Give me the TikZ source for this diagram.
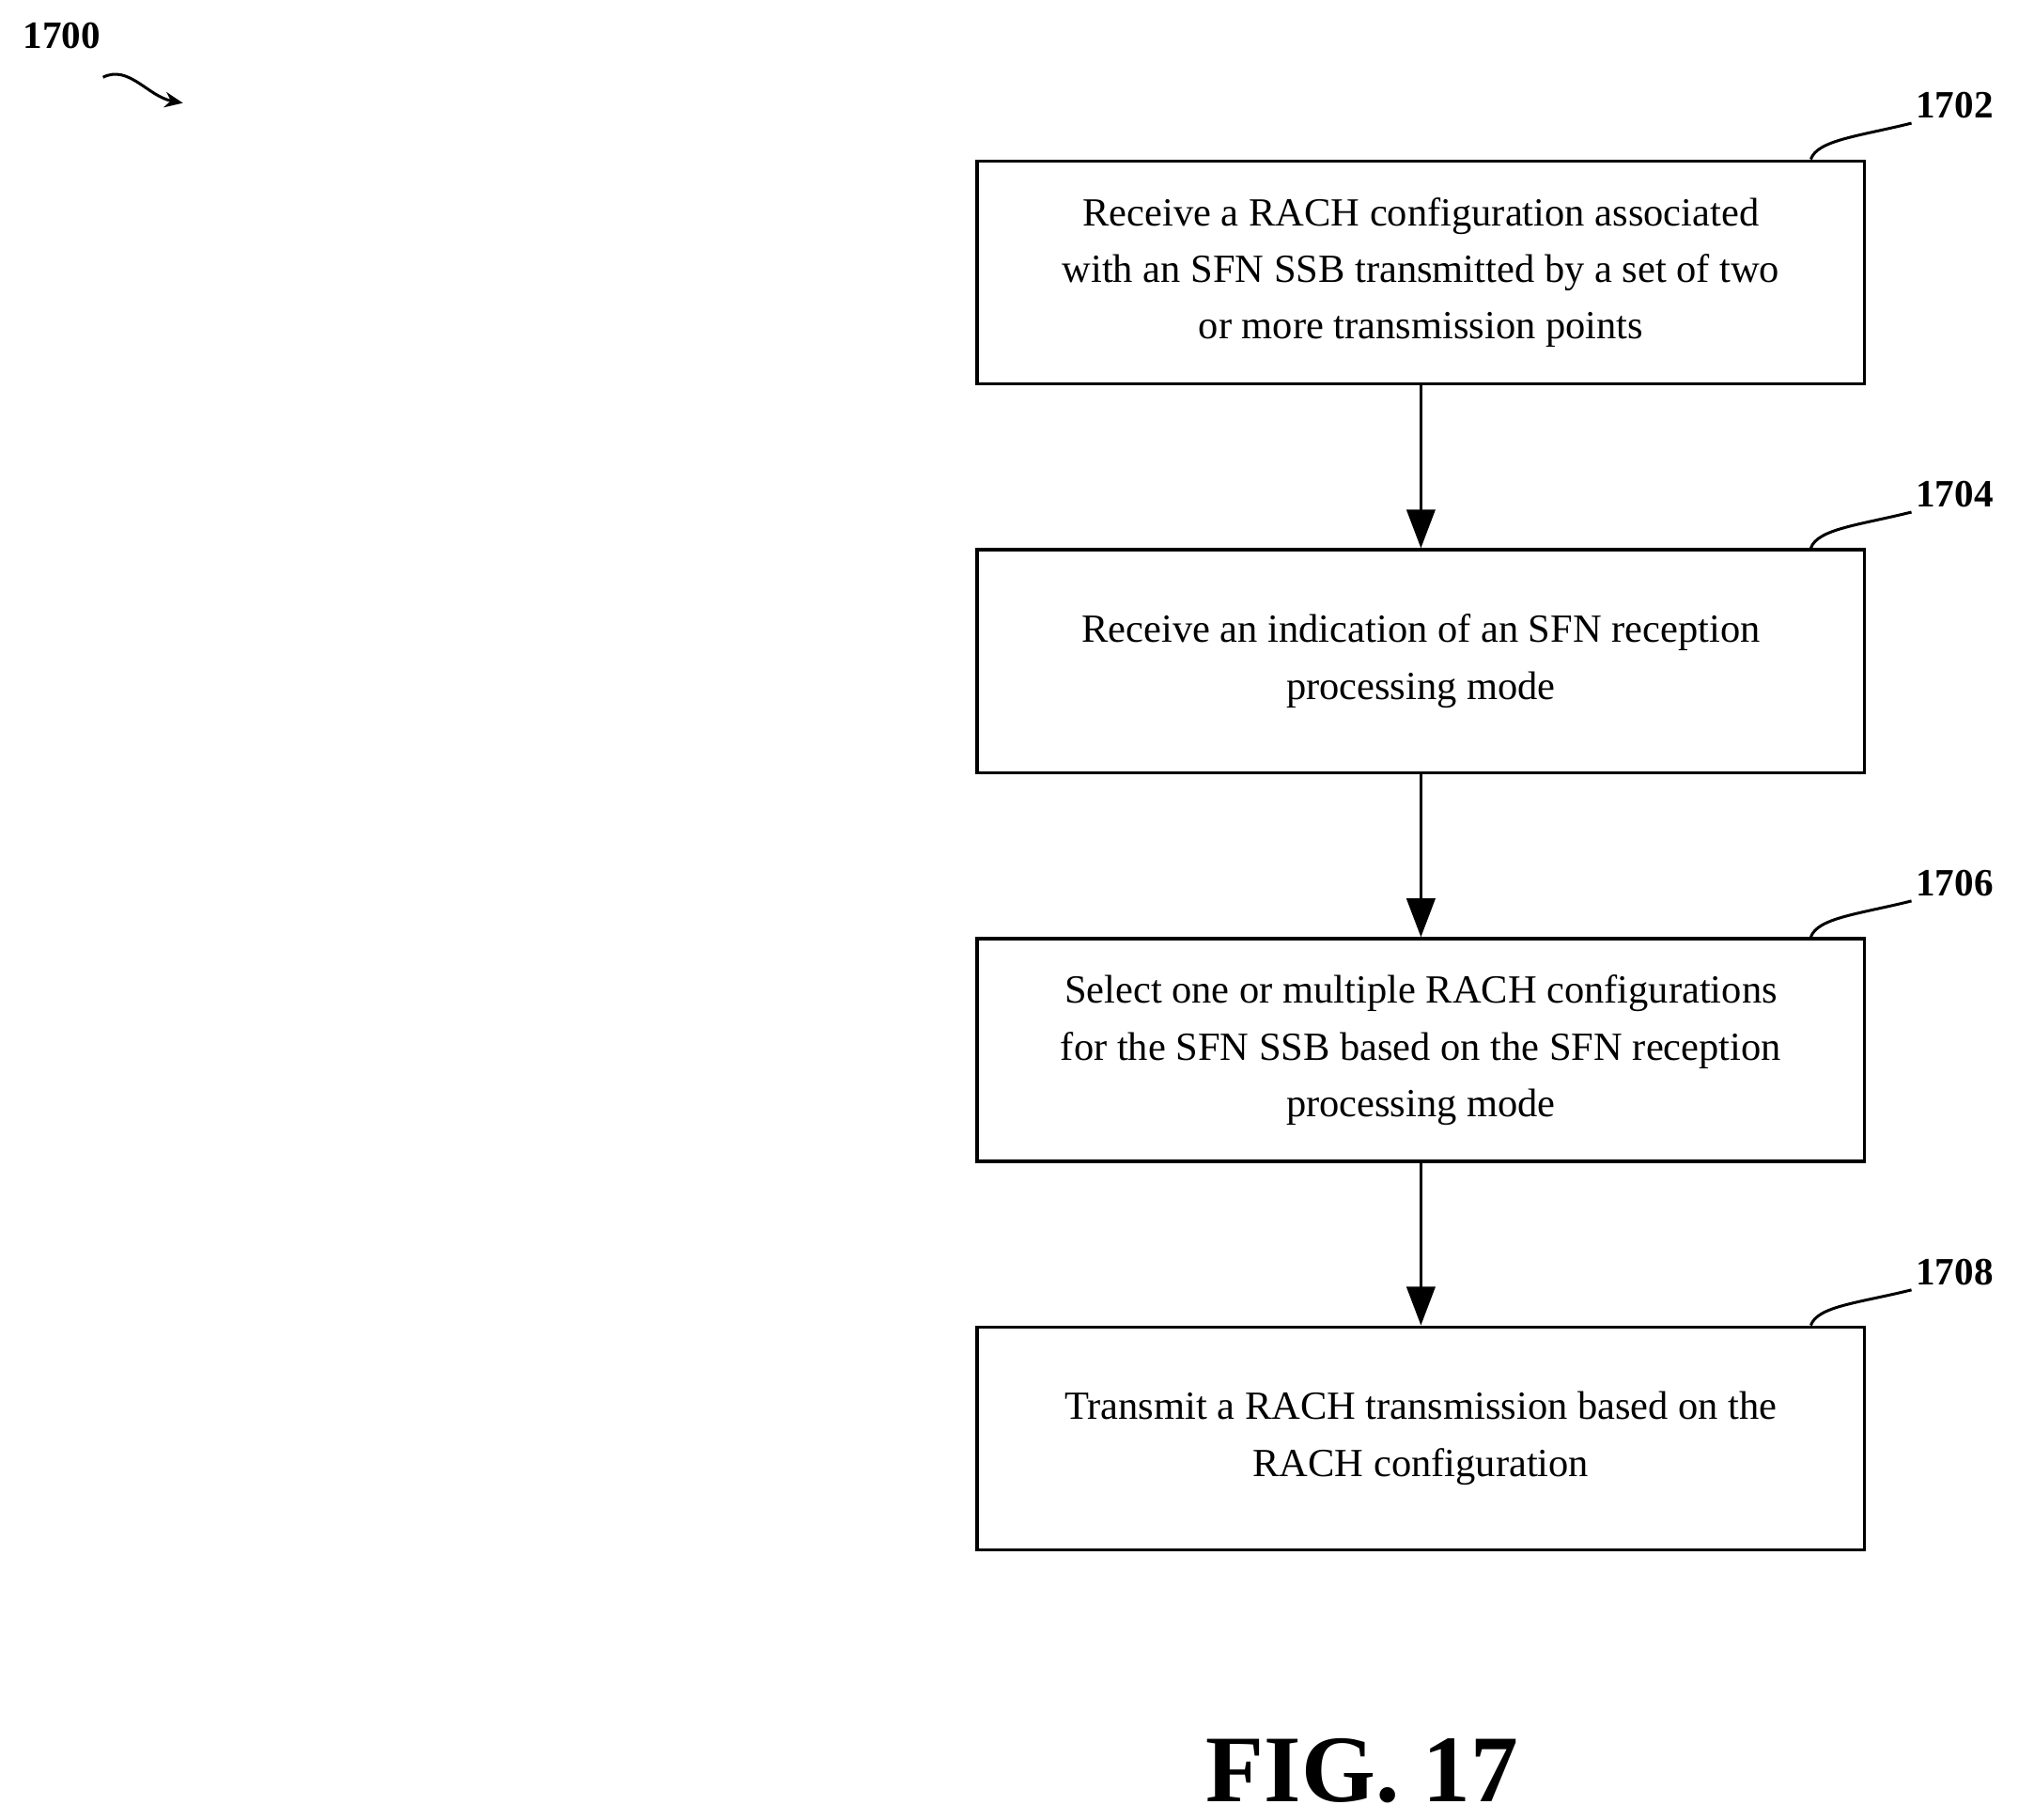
\documentclass[tikz,border=0pt]{standalone}
\usepackage{fontspec}
\setmainfont{Liberation Serif}
\usetikzlibrary{arrows.meta}
\begin{document}
\begin{tikzpicture}[x=1pt,y=-1pt,
  box/.style={draw,line width=2.6pt,minimum width=689pt,minimum height=173pt,align=center,inner sep=0pt,font=\fontsize{31}{44}\selectfont},
  arr/.style={line width=2.6pt,-{Triangle[length=30pt,width=22pt]}},
  lbl/.style={font=\fontsize{30}{30}\selectfont\bfseries},
  sq/.style={line width=2.2pt}]
\useasboundingbox (0,0) rectangle (1568,1413);
\node[box] (b1) at (1103.5,211.5) {Receive a RACH configuration associated\\with an SFN SSB transmitted by a set of two\\or more transmission points};
\node[box] (b2) at (1103.5,513.5) {Receive an indication of an SFN reception\\processing mode};
\node[box] (b3) at (1103.5,815.5) {Select one or multiple RACH configurations\\for the SFN SSB based on the SFN reception\\processing mode};
\node[box] (b4) at (1103.5,1117) {Transmit a RACH transmission based on the\\RACH configuration};
\draw[arr] (b1) -- (b2);
\draw[arr] (b2) -- (b3);
\draw[arr] (b3) -- (b4);
\foreach \b/\t/\y in {b1/1702/82,b2/1704/384,b3/1706/686,b4/1708/988}{
  \node[lbl] (l\t) at (1518,\y) {\t};
  \draw[sq] (\b.north east) ++(-43,0) .. controls +(5,-15) and +(-40,10) .. (l\t.south west);
}
\node[lbl] (l1700) at (48,28) {1700};
\coordinate (a0) at (80,60);
\coordinate (a1) at (142,80);
\draw[sq,-{Stealth[length=14pt,width=12pt]}] (a0) .. controls (100,50) and (115,75) .. (a1);
\node[font=\fontsize{74}{74}\selectfont\bfseries] (fig) at (1058,1375) {FIG. 17};
\end{tikzpicture}
\end{document}
